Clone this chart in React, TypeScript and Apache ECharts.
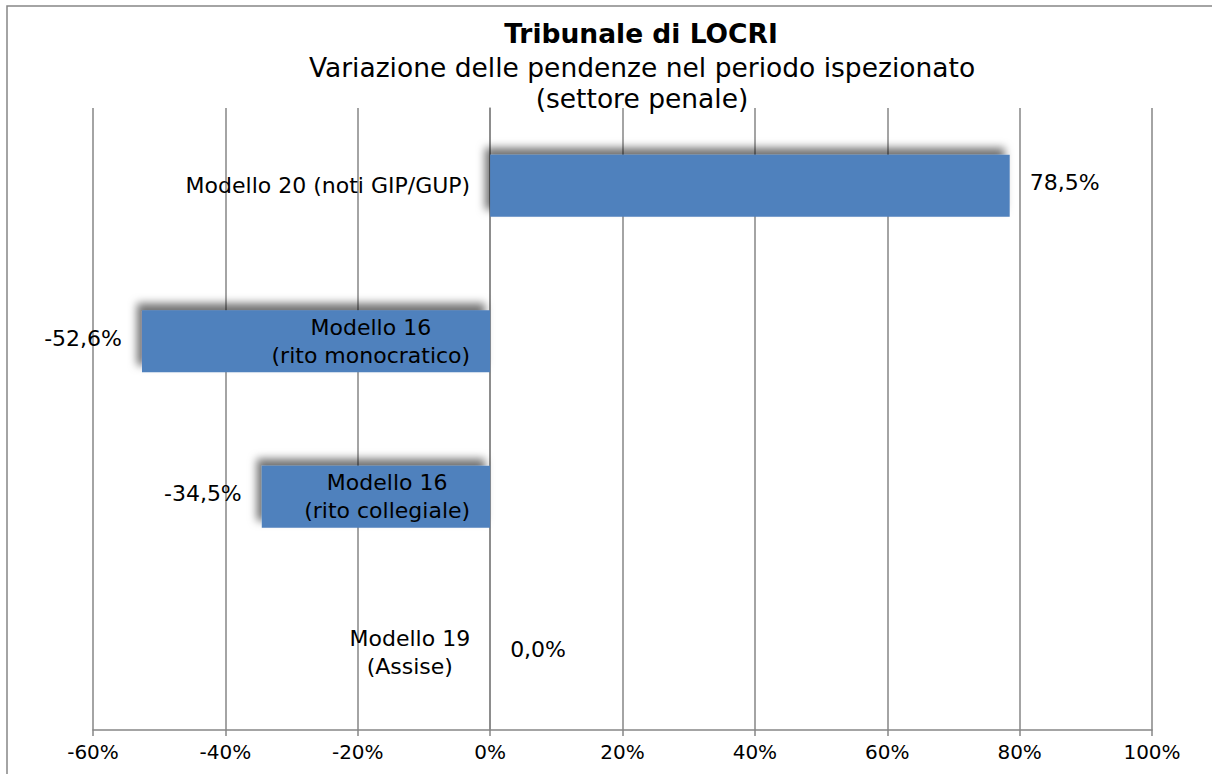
import React, { useEffect, useRef } from "react";
import * as echarts from "echarts";

const categories = [
  "Modello 20 (noti GIP/GUP)",
  "Modello 16\n(rito monocratico)",
  "Modello 16\n(rito collegiale)",
  "Modello 19\n(Assise)",
];
const values = [78.5, -52.6, -34.5, 0.0];
const zeroBase = [0, 0, 0, 0];
const xMin = -60;
const xMax = 100;
const xInterval = 20;
const titleMain = "Tribunale di LOCRI";
const titleSub1 = "Variazione delle pendenze nel periodo ispezionato";
const titleSub2 = "(settore penale)";

const FONT = "'DejaVu Sans', Verdana, sans-serif";
const GRID = "#868686";
const BAR = "#4F81BD";

export default function App() {
  const ref = useRef<HTMLDivElement>(null);
  useEffect(() => {
    if (!ref.current) return;
    const chart = echarts.init(ref.current, null, { renderer: "svg" });
    chart.setOption({
      animation: false,
      backgroundColor: "#ffffff",
      graphic: [
        {
          type: "rect",
          shape: { x: 7, y: 6, width: 1400, height: 1000 },
          style: { fill: "none", stroke: GRID, lineWidth: 1.5 },
          silent: true,
          z: -10,
        },
        {
          type: "text",
          x: 641,
          y: 33,
          style: {
            text: titleMain,
            align: "center",
            verticalAlign: "middle",
            fontFamily: FONT,
            fontSize: 26.5,
            fontWeight: "bold",
            fill: "#000",
          },
        },
        {
          type: "text",
          x: 642,
          y: 67,
          style: {
            text: titleSub1,
            align: "center",
            verticalAlign: "middle",
            fontFamily: FONT,
            fontSize: 26.5,
            fill: "#000",
          },
        },
        {
          type: "text",
          x: 642,
          y: 98,
          style: {
            text: titleSub2,
            align: "center",
            verticalAlign: "middle",
            fontFamily: FONT,
            fontSize: 26.5,
            fill: "#000",
          },
        },
      ],
      grid: {
        left: 93,
        right: 60,
        top: 108,
        bottom: 44,
        containLabel: false,
        outerBoundsMode: "none",
      },
      xAxis: {
        type: "value",
        min: xMin,
        max: xMax,
        interval: xInterval,
        axisLine: { show: true, lineStyle: { color: GRID, width: 1.5 } },
        axisTick: { show: true, length: 6, lineStyle: { color: GRID, width: 1.5 } },
        splitLine: { show: true, lineStyle: { color: GRID, width: 1.5 } },
        axisLabel: {
          formatter: "{value}%",
          fontFamily: FONT,
          fontSize: 20,
          color: "#000",
          margin: 12,
        },
      },
      yAxis: {
        type: "category",
        inverse: true,
        data: categories,
        axisLine: { show: true, onZero: true, lineStyle: { color: GRID, width: 1.5 } },
        axisTick: { show: false },
        splitLine: { show: false },
        axisLabel: { show: false },
      },
      series: [
        {
          type: "bar",
          barCategoryGap: "60%",
          data: values.map((v) => ({
            value: v,
            label: { position: v < 0 ? "left" : "right" },
          })),
          itemStyle: {
            color: BAR,
            shadowColor: "rgba(0,0,0,0.55)",
            shadowBlur: 8,
            shadowOffsetX: -5,
            shadowOffsetY: -7,
          },
          label: {
            show: true,
            distance: 20,
            offset: [0, -3],
            fontFamily: FONT,
            fontSize: 22,
            color: "#000",
            formatter: (p: any) => p.value.toFixed(1).replace(".", ",") + "%",
          },
        },
        {
          type: "bar",
          barGap: "-100%",
          barCategoryGap: "60%",
          silent: true,
          z: 5,
          data: zeroBase,
          itemStyle: { color: "transparent" },
          label: {
            show: true,
            position: "left",
            distance: 20,
            formatter: (p: any) =>
              String(p.name)
                .split("\n")
                .map((s: string) => `{a|${s}}`)
                .join("\n"),
            rich: {
              a: {
                align: "center",
                fontFamily: FONT,
                fontSize: 22,
                lineHeight: 28,
                color: "#000",
              },
            },
          },
        },
      ],
    });
    return () => chart.dispose();
  }, []);
  return (
    <div
      ref={ref}
      style={{ position: "fixed", left: 0, top: 0, width: 1212, height: 774 }}
    />
  );
}
